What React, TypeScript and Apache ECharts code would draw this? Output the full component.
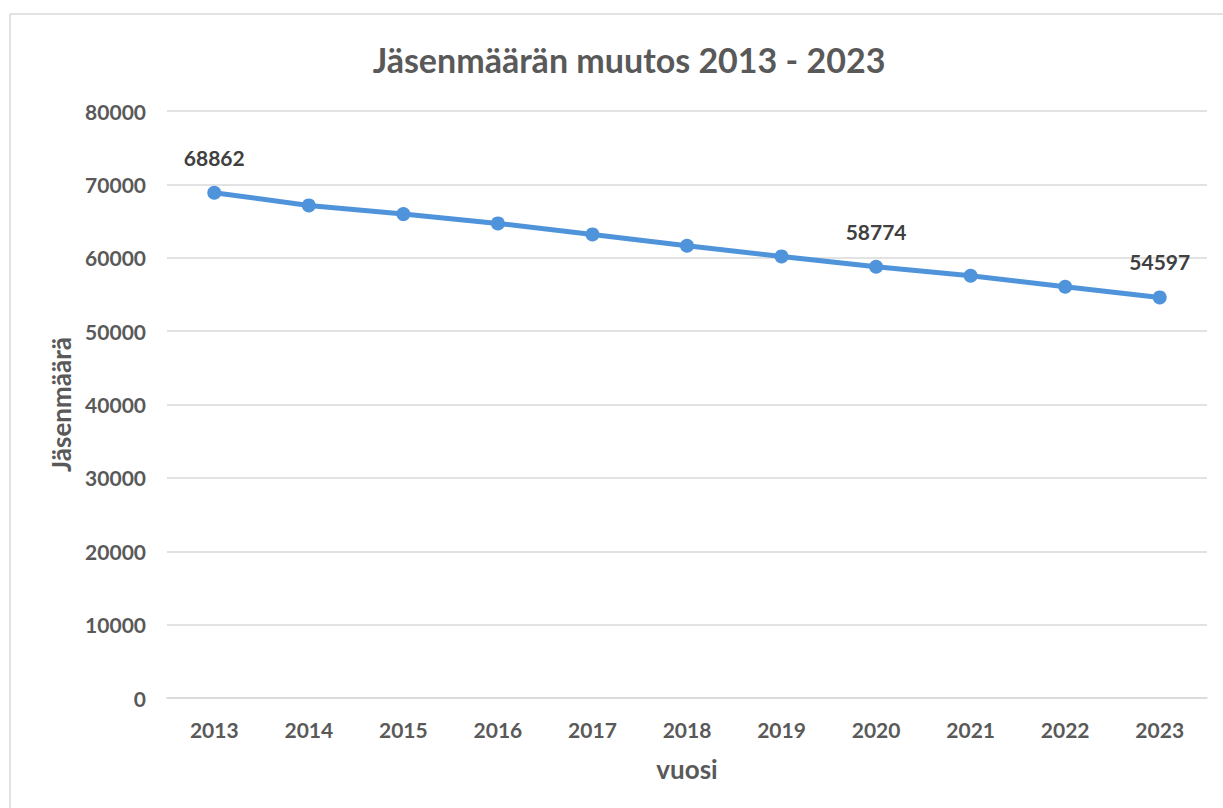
import React, { useEffect, useRef } from "react";
import * as echarts from "echarts";

const years = ["2013", "2014", "2015", "2016", "2017", "2018", "2019", "2020", "2021", "2022", "2023"];
const members = [68862, 67130, 65950, 64680, 63180, 61630, 60180, 58774, 57550, 56050, 54597];
const labeledYears = ["2013", "2020", "2023"];
const titleText = "Jäsenmäärän muutos 2013 - 2023";
const yAxisName = "Jäsenmäärä";
const xAxisName = "vuosi";

export default function App() {
  const ref = useRef<HTMLDivElement>(null);
  useEffect(() => {
    if (!ref.current) return;
    const chart = echarts.init(ref.current, undefined, { renderer: "svg" });
    const font = "Lato, 'Noto Sans', sans-serif";
    chart.setOption({
      animation: false,
      backgroundColor: "#ffffff",
      title: {
        text: titleText,
        left: 624,
        textAlign: "center",
        top: 37,
        textStyle: { fontFamily: font, fontSize: 34, fontWeight: "bold", color: "#595959" },
      },
      graphic: [
        { type: "line", shape: { x1: 10, y1: 14, x2: 1223, y2: 14 }, style: { stroke: "#d9d9d9", lineWidth: 1.5 } },
        { type: "line", shape: { x1: 10, y1: 14, x2: 10, y2: 808 }, style: { stroke: "#d9d9d9", lineWidth: 1.5 } },
      ],
      grid: { left: 167, right: 16, top: 111, bottom: 110 },
      xAxis: {
        type: "category",
        data: years,
        boundaryGap: true,
        name: xAxisName,
        nameLocation: "middle",
        nameGap: 58,
        nameTextStyle: { fontFamily: font, fontSize: 26, fontWeight: "bold", color: "#595959" },
        axisLine: { show: true, lineStyle: { color: "#d9d9d9", width: 1.5 } },
        axisTick: { show: false },
        axisLabel: { fontFamily: font, fontSize: 21, fontWeight: "bold", color: "#595959", margin: 21 },
      },
      yAxis: {
        type: "value",
        min: 0,
        max: 80000,
        interval: 10000,
        name: yAxisName,
        nameLocation: "middle",
        nameGap: 92,
        nameRotate: 90,
        nameTextStyle: { fontFamily: font, fontSize: 26, fontWeight: "bold", color: "#595959" },
        axisLine: { show: false },
        axisTick: { show: false },
        axisLabel: {
          fontFamily: font,
          fontSize: 21,
          fontWeight: "bold",
          color: "#595959",
          margin: 21,
          formatter: (v: number) => String(v),
        },
        splitLine: { lineStyle: { color: "#d9d9d9", width: 1.5 } },
      },
      series: [
        {
          type: "line",
          data: members.map((v, i) => ({
            value: v,
            label: {
              show: labeledYears.includes(years[i]),
              position: "top",
              distance: 18,
              fontFamily: font,
              fontSize: 21,
              fontWeight: "bold",
              color: "#404040",
            },
          })),
          symbol: "circle",
          symbolSize: 14,
          lineStyle: { color: "#4f94da", width: 5 },
          itemStyle: { color: "#4f94da" },
        },
      ],
    });
    return () => chart.dispose();
  }, []);
  return (
    <div
      ref={ref}
      style={{ position: "fixed", left: 0, top: 0, width: 1223, height: 808 }}
    />
  );
}
